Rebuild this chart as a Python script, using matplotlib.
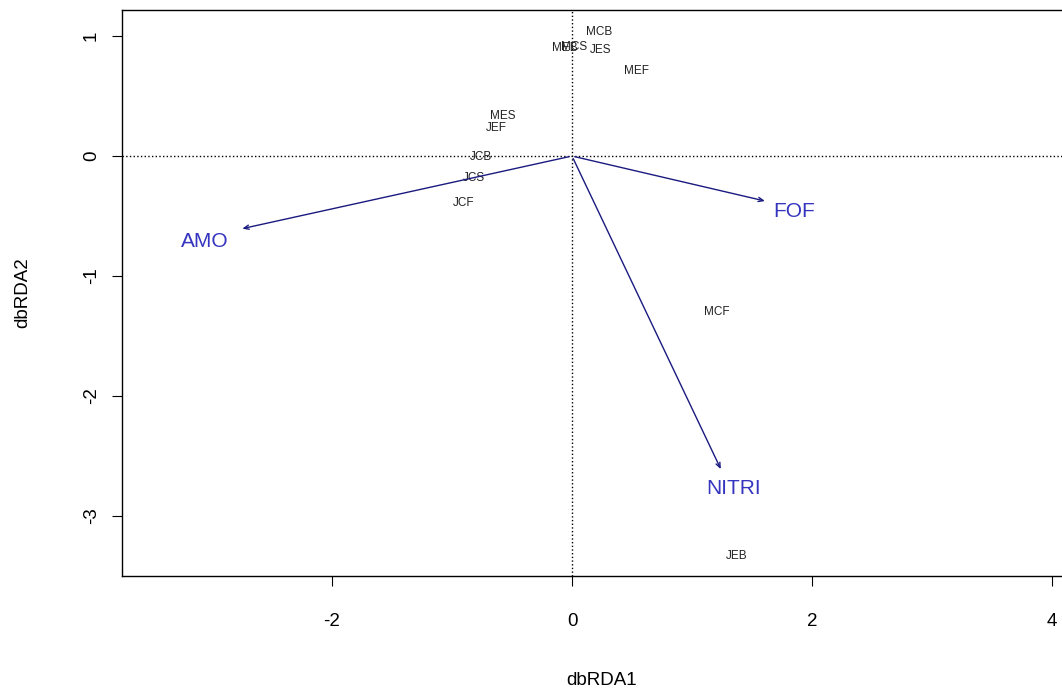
import matplotlib.pyplot as plt

plt.rcParams['font.family'] = ['Liberation Sans', 'DejaVu Sans']
plt.rcParams['axes.unicode_minus'] = False

# site scores (dbRDA1, dbRDA2)
sites = ['MCB', 'MEB', 'MCS', 'JES', 'MEF', 'MES', 'JEF', 'JCB', 'JCS', 'JCF', 'MCF', 'JEB']
site_x = [0.23, -0.06, 0.02, 0.24, 0.54, -0.58, -0.63, -0.76, -0.82, -0.90, 1.21, 1.37]
site_y = [1.03, 0.90, 0.91, 0.88, 0.71, 0.33, 0.23, -0.01, -0.18, -0.39, -1.30, -3.33]

# environmental vectors (arrow tips) and label positions
env = ['AMO', 'FOF', 'NITRI']
env_x = [-2.77, 1.63, 1.25]
env_y = [-0.61, -0.38, -2.63]
env_lab_x = [-3.06, 1.85, 1.35]
env_lab_y = [-0.71, -0.46, -2.77]

fig = plt.figure(figsize=(10.62, 6.95), dpi=100)
ax = fig.add_axes([122 / 1062, 119 / 695, 960 / 1062, 566 / 695])

ax.axhline(0, color='black', linestyle=':', linewidth=1)
ax.axvline(0, color='black', linestyle=':', linewidth=1)

for name, x, y in zip(sites, site_x, site_y):
    ax.text(x, y, name, ha='center', va='center', fontsize=8.5, color='#222222')

for name, x, y, lx, ly in zip(env, env_x, env_y, env_lab_x, env_lab_y):
    ax.annotate('', xy=(x, y), xytext=(0, 0),
                arrowprops=dict(arrowstyle='->,head_length=0.35,head_width=0.15',
                                color='#1a1a80', lw=1))
    ax.text(lx, ly, name, ha='center', va='center', fontsize=15, color='#3535c0')

ax.set_xlim(-3.75, 4.25)
ax.set_ylim(-3.5, 1.217)
ax.set_xticks([-2, 0, 2, 4])
ax.set_yticks([1, 0, -1, -2, -3])
ax.tick_params(direction='out', length=7, labelsize=13.5)
ax.tick_params(axis='x', pad=20)
ax.tick_params(axis='y', pad=9)
for lab in ax.get_yticklabels():
    lab.set_rotation(90)
    lab.set_va('center')
for s in ax.spines.values():
    s.set_linewidth(1)

ax.set_xlabel('dbRDA1', fontsize=13.5, labelpad=30)
ax.set_ylabel('dbRDA2', fontsize=13.5, labelpad=37)

plt.savefig('out.png', dpi=100)
